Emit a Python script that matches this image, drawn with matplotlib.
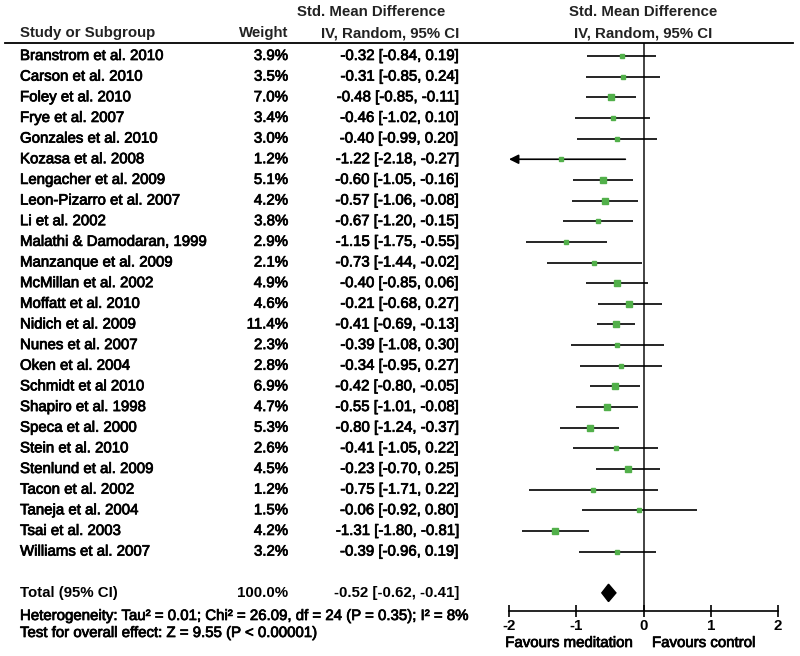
import matplotlib
matplotlib.use("Agg")
import matplotlib.pyplot as plt
from matplotlib.patches import Polygon
from matplotlib.lines import Line2D
from matplotlib.transforms import blended_transform_factory
import matplotlib.patheffects as pe

plt.rcParams['font.family'] = ['Liberation Sans', 'DejaVu Sans']

studies = ["Branstrom et al. 2010", "Carson et al. 2010", "Foley et al. 2010", "Frye et al. 2007",
           "Gonzales et al. 2010", "Kozasa et al. 2008", "Lengacher et al. 2009", "Leon-Pizarro et al. 2007",
           "Li et al. 2002", "Malathi & Damodaran, 1999", "Manzanque et al. 2009", "McMillan et al. 2002",
           "Moffatt et al. 2010", "Nidich et al. 2009", "Nunes et al. 2007", "Oken et al. 2004",
           "Schmidt et al 2010", "Shapiro et al. 1998", "Speca et al. 2000", "Stein et al. 2010",
           "Stenlund et al. 2009", "Tacon et al. 2002", "Taneja et al. 2004", "Tsai et al. 2003",
           "Williams et al. 2007"]
weights = [3.9, 3.5, 7.0, 3.4, 3.0, 1.2, 5.1, 4.2, 3.8, 2.9, 2.1, 4.9, 4.6, 11.4, 2.3, 2.8,
           6.9, 4.7, 5.3, 2.6, 4.5, 1.2, 1.5, 4.2, 3.2]
smd = [-0.32, -0.31, -0.48, -0.46, -0.40, -1.22, -0.60, -0.57, -0.67, -1.15, -0.73, -0.40,
       -0.21, -0.41, -0.39, -0.34, -0.42, -0.55, -0.80, -0.41, -0.23, -0.75, -0.06, -1.31, -0.39]
ci_low = [-0.84, -0.85, -0.85, -1.02, -0.99, -2.18, -1.05, -1.06, -1.20, -1.75, -1.44, -0.85,
          -0.68, -0.69, -1.08, -0.95, -0.80, -1.01, -1.24, -1.05, -0.70, -1.71, -0.92, -1.80, -0.96]
ci_high = [0.19, 0.24, -0.11, 0.10, 0.20, -0.27, -0.16, -0.08, -0.15, -0.55, -0.02, 0.06,
           0.27, -0.13, 0.30, 0.27, -0.05, -0.08, -0.37, 0.22, 0.25, 0.22, 0.80, -0.81, 0.19]
total_label = "Total (95% CI)"
total_weight = 100.0
total_smd = -0.52
total_low = -0.62
total_high = -0.41
xticks = [-2, -1, 0, 1, 2]
heterogeneity = "Heterogeneity: Tau\u00b2 = 0.01; Chi\u00b2 = 26.09, df = 24 (P = 0.35); I\u00b2 = 8%"
overall = "Test for overall effect: Z = 9.55 (P < 0.00001)"

W, H = 800, 656
fig = plt.figure(figsize=(W / 100, H / 100), dpi=100)

row0, dy = 56, 20.65
def prow(px):
    return (px - row0) / dy

heavy = [pe.withStroke(linewidth=0.55, foreground='black')]

ax_left, ax_right, ax_top, ax_bot = 509, 778, 43, 611
ax = fig.add_axes([ax_left / W, 1 - ax_bot / H, (ax_right - ax_left) / W, (ax_bot - ax_top) / H])
ax.set_xlim(-2, 2)
ax.set_ylim(prow(ax_bot), prow(ax_top))
for s in ['left', 'right', 'top']:
    ax.spines[s].set_visible(False)
ax.spines['bottom'].set_linewidth(1.2)
ax.set_yticks([])
ax.set_xticks(xticks)
ax.set_xticklabels([str(t) for t in xticks], fontsize=10.8, fontweight='bold')
ax.tick_params(axis='x', direction='inout', length=9, width=1.2, pad=1)
ax.axvline(0, color='#222222', lw=1.2, zorder=1)
ax.patch.set_alpha(0)

fs = 10.8
tr = blended_transform_factory(fig.transFigure, ax.transData)

green = '#52b04a'
for i, (name, w, m, lo, hi) in enumerate(zip(studies, weights, smd, ci_low, ci_high)):
    if lo < -2:
        ax.annotate('', xy=(-2, i), xytext=(hi, i),
                    arrowprops=dict(arrowstyle='-|>', color='black', lw=1.2,
                                    shrinkA=0, shrinkB=0, mutation_scale=14),
                    annotation_clip=False)
    else:
        ax.plot([lo, hi], [i, i], color='black', lw=1.2, solid_capstyle='butt', zorder=2)
    ax.plot(m, i, marker='s', ms=1.6 + 1.0 * w ** 0.5, color=green, mec=green, zorder=3)
    ax.text(20 / W, i, name, transform=tr, fontsize=fs, va='center', ha='left', path_effects=heavy)
    ax.text(288 / W, i, f"{w:.1f}%", transform=tr, fontsize=fs, va='center', ha='right', path_effects=heavy)
    ax.text(459 / W, i, f"{m:.2f} [{lo:.2f}, {hi:.2f}]", transform=tr, fontsize=fs, va='center',
            ha='right', path_effects=heavy)

ty = len(studies) + 1
h = 0.42
ax.add_patch(Polygon([[total_low, ty], [total_smd, ty - h], [total_high, ty], [total_smd, ty + h]],
                     closed=True, color='black', zorder=3))
ax.text(20 / W, ty, total_label, transform=tr, fontsize=fs, va='center', ha='left', fontweight='bold')
ax.text(288 / W, ty, f"{total_weight:.1f}%", transform=tr, fontsize=fs, va='center', ha='right', fontweight='bold')
ax.text(459 / W, ty, f"{total_smd:.2f} [{total_low:.2f}, {total_high:.2f}]", transform=tr,
        fontsize=fs, va='center', ha='right', fontweight='bold')

ax.text(20 / W, prow(616), heterogeneity, transform=tr, fontsize=fs, va='center', ha='left', path_effects=heavy)
ax.text(20 / W, prow(633), overall, transform=tr, fontsize=fs, va='center', ha='left', path_effects=heavy)

# headers
hc = '#222222'
ax.text(20 / W, prow(33), "Study or Subgroup", transform=tr, fontsize=fs, va='center', ha='left',
        fontweight='bold', color=hc)
ax.text(288 / W, prow(33), "Weight", transform=tr, fontsize=fs, va='center', ha='right', fontweight='bold', color=hc)
ax.text(371 / W, prow(12), "Std. Mean Difference", transform=tr, fontsize=fs, va='center', ha='center',
        fontweight='bold', color=hc)
ax.text(459 / W, prow(33), "IV, Random, 95% CI", transform=tr, fontsize=fs, va='center', ha='right',
        fontweight='bold', color=hc)
ax.text(0, prow(12), "Std. Mean Difference", fontsize=fs, va='center', ha='center', fontweight='bold', color=hc)
ax.text(0, prow(33), "IV, Random, 95% CI", fontsize=fs, va='center', ha='center', fontweight='bold', color=hc)

ax.text(633 / W, prow(643), "Favours meditation", transform=tr, fontsize=fs, va='center', ha='right',
        path_effects=heavy)
ax.text(652 / W, prow(643), "Favours control", transform=tr, fontsize=fs, va='center', ha='left',
        path_effects=heavy)

fig.add_artist(Line2D([5 / W, 793 / W], [1 - 43 / H] * 2, color='black', lw=1.3))

fig.savefig("out.png", dpi=100)
